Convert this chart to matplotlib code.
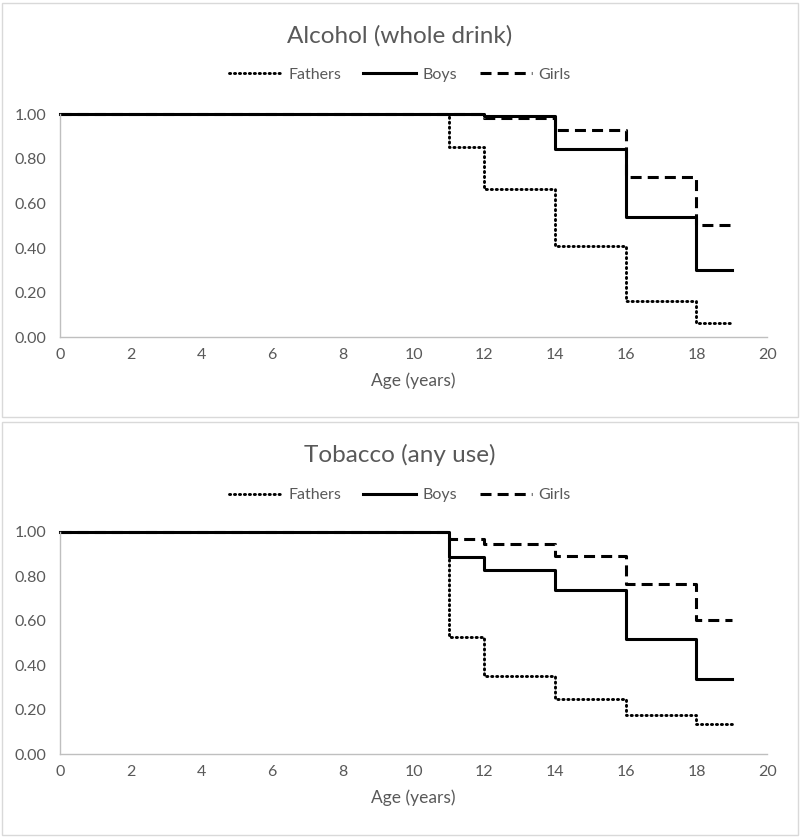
import matplotlib
matplotlib.use("Agg")
import matplotlib.pyplot as plt
from matplotlib.patches import Rectangle

plt.rcParams['font.family'] = ['Lato', 'DejaVu Sans']

# step data (value holds from each age until the next)
ages = [0, 11, 12, 14, 16, 18, 19]

alc_fathers = [1.00, 0.852, 0.664, 0.409, 0.163, 0.064, 0.064]
alc_boys = [1.00, 1.00, 0.99, 0.843, 0.540, 0.301, 0.301]
alc_girls = [1.00, 1.00, 0.983, 0.928, 0.719, 0.503, 0.503]

tob_fathers = [1.00, 0.528, 0.352, 0.247, 0.175, 0.135, 0.135]
tob_boys = [1.00, 0.888, 0.828, 0.741, 0.520, 0.339, 0.339]
tob_girls = [1.00, 0.966, 0.945, 0.892, 0.768, 0.606, 0.606]

x_ticks = [0, 2, 4, 6, 8, 10, 12, 14, 16, 18, 20]
y_ticks = [0.0, 0.2, 0.4, 0.6, 0.8, 1.0]

grey = '#595959'
fig = plt.figure(figsize=(8, 8.39), dpi=100)

# panel borders
fig.patches.append(Rectangle((0.003, 0.503), 0.994, 0.494, transform=fig.transFigure,
                             fill=False, edgecolor='#d9d9d9', lw=1))
fig.patches.append(Rectangle((0.003, 0.005), 0.994, 0.492, transform=fig.transFigure,
                             fill=False, edgecolor='#d9d9d9', lw=1))


def panel(rect, title, title_y, leg_y, fathers, boys, girls):
    ax = fig.add_axes(rect)
    h1, = ax.step(ages, fathers, where='post', color='black', lw=2.1,
                  linestyle=(0, (0.4, 1.3)), dash_capstyle='round')
    h2, = ax.step(ages, boys, where='post', color='black', lw=2.2)
    h3, = ax.step(ages, girls, where='post', color='black', lw=2.2,
                  linestyle=(0, (3.6, 2.0)))
    ax.set_xlim(0, 20)
    ax.set_ylim(0, 1.0)
    ax.set_xticks(x_ticks)
    ax.set_yticks(y_ticks)
    ax.set_yticklabels(['%.2f' % v for v in y_ticks])
    ax.tick_params(length=0, labelsize=11.5, colors=grey, pad=8)
    ax.tick_params(axis='y', pad=10)
    for s in ['top', 'right']:
        ax.spines[s].set_visible(False)
    for s in ['left', 'bottom']:
        ax.spines[s].set_color('#bfbfbf')
        ax.spines[s].set_linewidth(1)
    ax.set_xlabel('Age (years)', fontsize=12.5, color=grey, labelpad=7)
    for ln in (h1, h2, h3):
        ln.set_clip_on(False)
    fig.text(0.5, title_y, title, ha='center', va='center', fontsize=17.5, color=grey)
    fig.legend([h1, h2, h3], ['Fathers', 'Boys', 'Girls'], loc='center',
               bbox_to_anchor=(0.5, leg_y), ncol=3, frameon=False, fontsize=11.5,
               labelcolor=grey, handlelength=3.3, handletextpad=0.4, columnspacing=1.4)
    return ax


panel([0.075, 0.598, 0.884, 0.266], 'Alcohol (whole drink)', 0.957, 0.911,
      alc_fathers, alc_boys, alc_girls)
panel([0.075, 0.101, 0.884, 0.265], 'Tobacco (any use)', 0.458, 0.410,
      tob_fathers, tob_boys, tob_girls)

fig.savefig('out.png', dpi=100)
